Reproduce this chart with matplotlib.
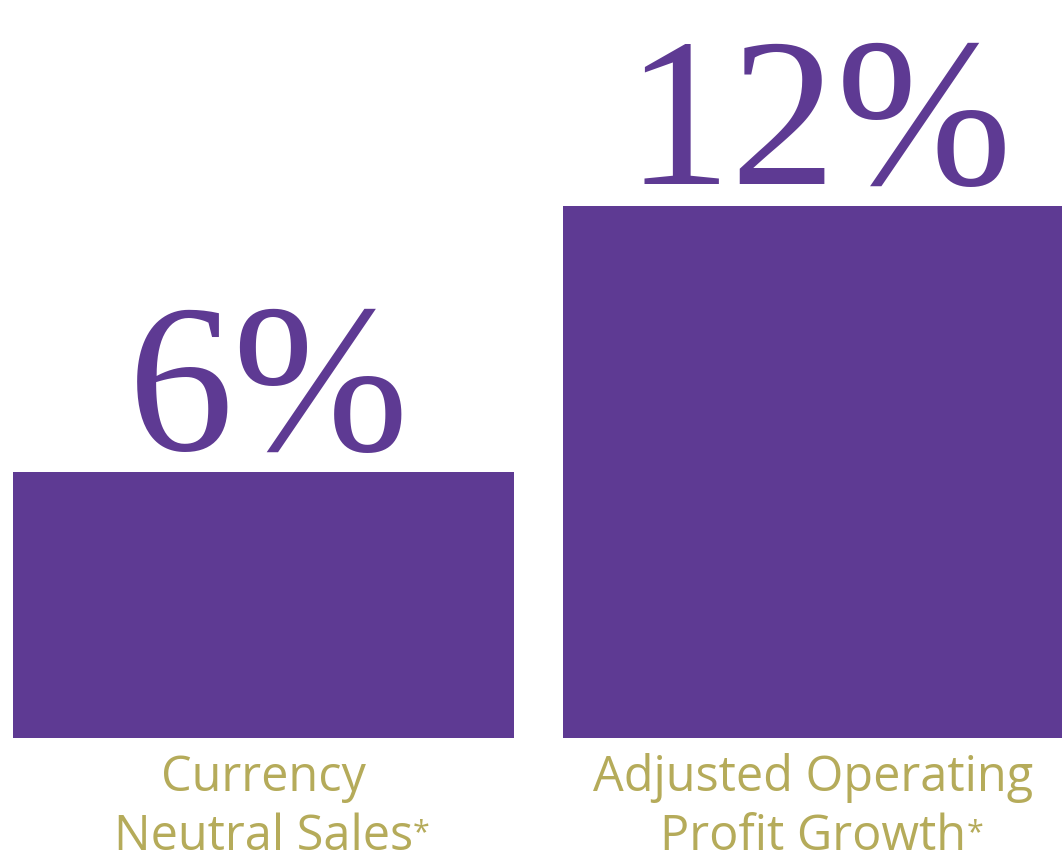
import matplotlib.pyplot as plt

# values
metrics = ["Currency\nNeutral Sales", "Adjusted Operating\nProfit Growth"]
growth = [6, 12]
value_labels = ["6%", "12%"]

purple = "#5E3A93"
olive = "#B5AB5A"

fig = plt.figure(figsize=(10.62, 8.64), dpi=100)
ax = fig.add_axes([0, 0, 1, 1])

pos = range(len(growth))
bars = ax.bar(pos, growth, width=0.91, color=purple, linewidth=0)

# big serif value above each bar
for x, v, lab in zip(pos, growth, value_labels):
    ax.text(x + 0.01, v + 0.5, lab, ha="center", va="baseline",
            fontsize=152, family="Liberation Serif", color=purple)

# category labels under the bars, with a small asterisk
for x, name in zip(pos, metrics):
    first, second = name.split("\n")
    ax.text(x, -1.2, first, ha="center", va="baseline",
            fontsize=35, family="Open Sans", color=olive)
    t2 = ax.text(x, -2.52, second, ha="center", va="baseline",
                 fontsize=35, family="Open Sans", color=olive)
    ax.annotate("*", xy=(1, 1), xycoords=t2, xytext=(0, -4),
                textcoords="offset points", ha="left", va="top",
                fontsize=22, family="Open Sans", color=olive)

ax.set_xlim(-0.479, 1.452)
ax.set_ylim(-2.84, 16.65)
ax.axis("off")

fig.savefig("out.png", dpi=100, facecolor="white")
